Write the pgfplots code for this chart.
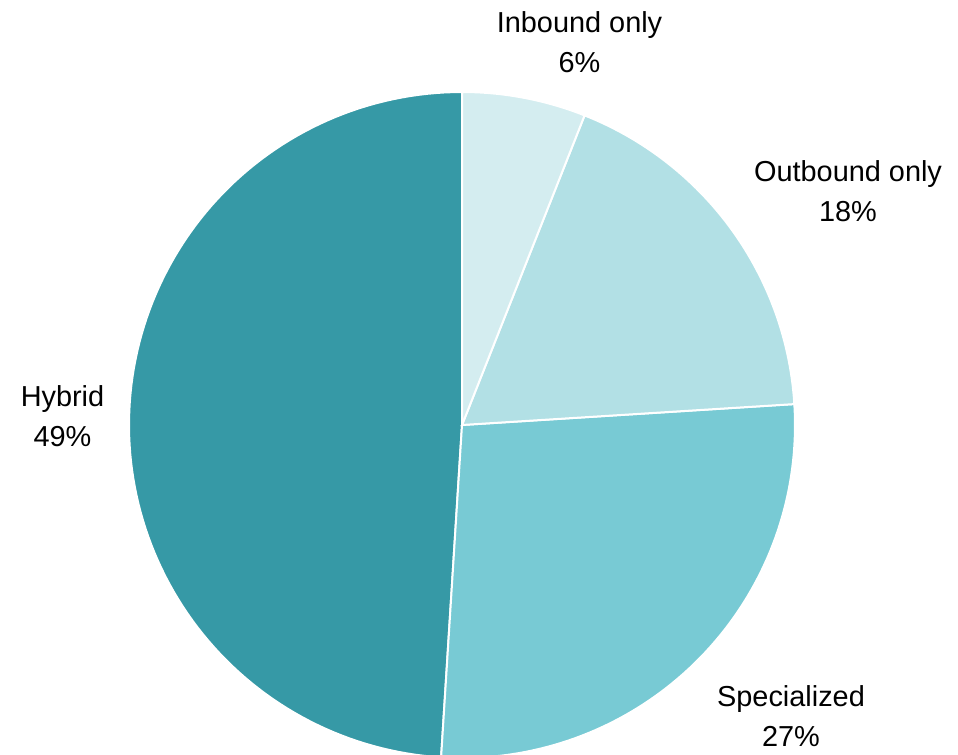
\documentclass[border=0pt]{standalone}
\usepackage{pgfplots}
\pgfplotsset{compat=1.18}
\usepackage{fontspec}
\setmainfont{Liberation Sans}
\definecolor{cIn}{HTML}{D4EDF0}
\definecolor{cOut}{HTML}{B2E0E5}
\definecolor{cSpec}{HTML}{78CAD4}
\definecolor{cHyb}{HTML}{3699A6}
\begin{document}
\begin{tikzpicture}
\begin{axis}[
  x=1bp, y=1bp,
  xmin=0, xmax=958, ymin=0, ymax=755,
  scale only axis, hide axis, clip=true,
]
\path (rel axis cs:0,0) (rel axis cs:1,1);
% pie: centre (462,330), radius 333; shares 6, 18, 27, 49 %
% angles measured clockwise from top: cumulative share * 3.6
\addplot[fill=cHyb, draw=white, line width=2bp, domain=183.6:360, samples=120, variable=\t]
  ({462+333*sin(\t)},{330+333*cos(\t)}) -- (axis cs:462,330) -- cycle;
\addplot[fill=cSpec, draw=white, line width=2bp, domain=86.4:183.6, samples=80, variable=\t]
  ({462+333*sin(\t)},{330+333*cos(\t)}) -- (axis cs:462,330) -- cycle;
\addplot[fill=cOut, draw=white, line width=2bp, domain=21.6:86.4, samples=60, variable=\t]
  ({462+333*sin(\t)},{330+333*cos(\t)}) -- (axis cs:462,330) -- cycle;
\addplot[fill=cIn, draw=white, line width=2bp, domain=0:21.6, samples=30, variable=\t]
  ({462+333*sin(\t)},{330+333*cos(\t)}) -- (axis cs:462,330) -- cycle;
\end{axis}
\begin{scope}[every node/.style={font=\fontsize{29}{40}\selectfont, anchor=base, inner sep=0pt}]
\node at (579.5bp,722bp) {Inbound only};
\node at (579.5bp,682bp) {6\%};
\node at (848bp,573bp) {Outbound only};
\node at (848bp,533bp) {18\%};
\node at (62.5bp,348bp) {Hybrid};
\node at (62.5bp,308bp) {49\%};
\node at (791bp,48bp) {Specialized};
\node at (791bp,8bp) {27\%};
\end{scope}
\end{tikzpicture}
\end{document}
